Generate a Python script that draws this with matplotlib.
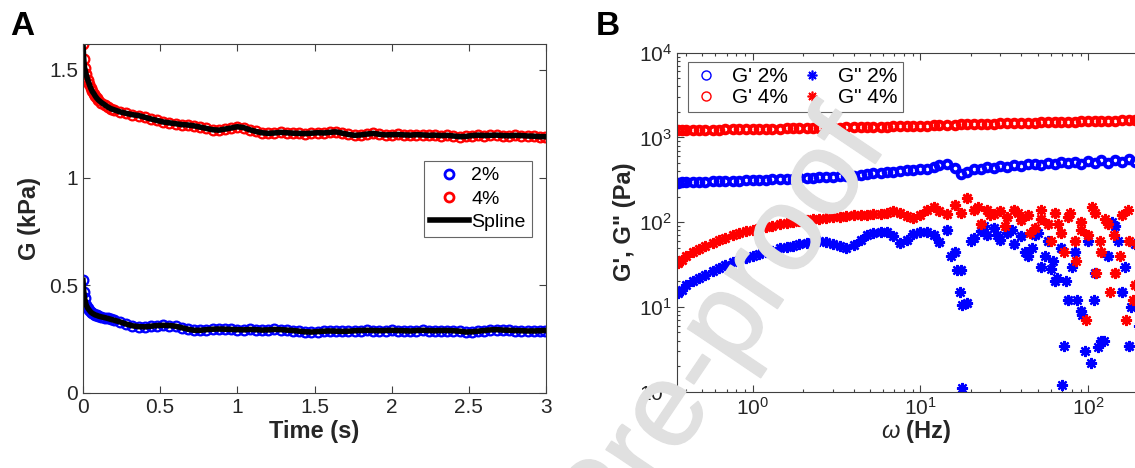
import matplotlib
matplotlib.use('Agg')
import matplotlib.pyplot as plt
import matplotlib.ticker as mticker
import matplotlib.patheffects as pe
from matplotlib.lines import Line2D

plt.rcParams['font.family'] = ['Liberation Sans', 'DejaVu Sans']
plt.rcParams['mathtext.fontset'] = 'custom'
plt.rcParams['mathtext.rm'] = 'Liberation Sans'
plt.rcParams['mathtext.it'] = 'Liberation Sans:italic'
plt.rcParams['mathtext.bf'] = 'Liberation Sans:bold'
plt.rcParams['mathtext.default'] = 'regular'

# ---- panel A: relaxation, G (kPa) vs time (s)
t = [0, 0.005, 0.01, 0.02, 0.03, 0.04, 0.05, 0.06, 0.07, 0.08, 0.09, 0.10,
     0.12, 0.14, 0.16, 0.18, 0.20, 0.24, 0.28, 0.32, 0.36, 0.40, 0.44, 0.48,
     0.52, 0.56, 0.60, 0.64, 0.68, 0.72, 0.76, 0.80, 0.84, 0.88, 0.92, 0.96,
     1.00, 1.04, 1.08, 1.12, 1.16, 1.20, 1.24, 1.28, 1.32, 1.36, 1.40, 1.44,
     1.48, 1.52, 1.56, 1.60, 1.64, 1.68, 1.72, 1.76, 1.80, 1.84, 1.88, 1.92,
     1.96, 2.00, 2.04, 2.08, 2.12, 2.16, 2.20, 2.24, 2.28, 2.32, 2.36, 2.40,
     2.44, 2.48, 2.52, 2.56, 2.60, 2.64, 2.68, 2.72, 2.76, 2.80, 2.84, 2.88,
     2.92, 2.96, 2.99]
g4 = [1.62, 1.55, 1.51, 1.48, 1.455, 1.435, 1.415, 1.40, 1.39, 1.378, 1.368, 1.36,
      1.348, 1.338, 1.328, 1.32, 1.315, 1.305, 1.298, 1.292, 1.288, 1.28, 1.272, 1.265,
      1.258, 1.254, 1.25, 1.246, 1.244, 1.24, 1.234, 1.228, 1.222, 1.22, 1.225, 1.23,
      1.236, 1.232, 1.222, 1.214, 1.208, 1.205, 1.207, 1.21, 1.208, 1.206, 1.205, 1.204,
      1.206, 1.208, 1.207, 1.21, 1.212, 1.206, 1.20, 1.196, 1.198, 1.202, 1.205, 1.201,
      1.198, 1.199, 1.20, 1.198, 1.197, 1.199, 1.198, 1.196, 1.197, 1.195, 1.196, 1.193,
      1.19, 1.191, 1.195, 1.197, 1.195, 1.196, 1.197, 1.195, 1.194, 1.196, 1.195, 1.193,
      1.192, 1.19, 1.19]
g2 = [0.523, 0.47, 0.44, 0.41, 0.395, 0.385, 0.376, 0.37, 0.366, 0.362, 0.36, 0.357,
      0.353, 0.35, 0.346, 0.342, 0.338, 0.33, 0.32, 0.312, 0.308, 0.307, 0.31, 0.313,
      0.314, 0.313, 0.31, 0.303, 0.296, 0.291, 0.291, 0.294, 0.296, 0.297, 0.296, 0.295,
      0.294, 0.293, 0.295, 0.294, 0.292, 0.293, 0.295, 0.294, 0.292, 0.29, 0.287, 0.284,
      0.283, 0.285, 0.287, 0.288, 0.287, 0.286, 0.287, 0.289, 0.29, 0.291, 0.29, 0.289,
      0.29, 0.291, 0.29, 0.289, 0.288, 0.29, 0.291, 0.29, 0.289, 0.29, 0.29, 0.289,
      0.287, 0.283, 0.284, 0.287, 0.29, 0.293, 0.294, 0.292, 0.291, 0.29, 0.289, 0.288,
      0.288, 0.289, 0.29]

# ---- panel B: frequency sweep, G', G'' (Pa) vs omega (Hz)
w = [0.36, 0.38, 0.40, 0.44, 0.48, 0.52, 0.58, 0.63, 0.69, 0.76, 0.83, 0.91,
     1.0, 1.1, 1.2, 1.3, 1.45, 1.6, 1.75, 1.9, 2.1, 2.3, 2.5, 2.75, 3.0, 3.3,
     3.6, 4.0, 4.4, 4.8, 5.2, 5.8, 6.3, 6.9, 7.6, 8.3, 9.1,
     10, 11, 12, 13, 14.5, 16, 17.5, 19, 21, 23, 25, 27.5, 30, 33, 36, 40, 44,
     48, 52, 58, 63, 69, 76, 83, 91,
     100, 110, 120, 132, 145, 160, 175, 190, 210]
gp4 = [1220, 1222, 1225, 1228, 1230, 1233, 1236, 1240, 1243, 1246, 1250, 1253,
       1257, 1260, 1264, 1268, 1272, 1276, 1280, 1284, 1288, 1292, 1297, 1301, 1306, 1310,
       1315, 1320, 1325, 1330, 1335, 1340, 1346, 1352, 1358, 1364, 1370,
       1376, 1382, 1390, 1396, 1404, 1412, 1425, 1450, 1440, 1445, 1452, 1458, 1465, 1472,
       1478, 1485, 1492, 1498, 1505, 1512, 1520, 1525, 1532, 1540, 1545,
       1552, 1560, 1566, 1575, 1582, 1590, 1598, 1605, 1615]
gp2 = [294, 296, 297, 299, 300, 301, 303, 304, 306, 308, 310, 312,
       314, 316, 318, 320, 322, 325, 327, 330, 333, 336, 339, 342, 346, 350,
       352, 355, 362, 370, 376, 382, 388, 394, 400, 408, 415,
       422, 430, 445, 470, 480, 440, 370, 395, 420, 430, 445, 440, 460, 452,
       470, 465, 480, 485, 478, 500, 490, 510, 500, 520, 480,
       530, 505, 540, 495, 545, 510, 550, 520, 560]
gpp4 = [33, 36, 40, 44, 48, 52, 57, 61, 66, 70, 74, 78,
        82, 85, 88, 91, 94, 97, 100, 103, 106, 108, 110, 112, 114, 116,
        118, 120, 121, 123, 124, 126, 130, 135, 128, 118, 112,
        122, 140, 150, 135, 125, 160, 130, 195, 140, 95, 140, 125, 135, 115,
        140, 105, 120, 85, 110, 95, 130, 75, 115, 60, 100,
        70, 130, 45, 95, 25, 120, 60, 18, 90]
gpp2 = [14.5, 16, 18, 20, 22, 24, 26.5, 29, 31.5, 34, 36, 38,
        40, 42, 44, 46, 49, 51, 53, 55, 57, 59, 60, 59, 56, 52,
        50, 54, 62, 70, 75, 77, 76, 68, 57, 62, 72,
        77, 76, 70, 58, 82, 45, 27, 11, 65, 78, 70, 85, 62, 75,
        55, 68, 40, 70, 30, 60, 20, 50, 12, 45, 9,
        60, 25, 4, 40, 90, 15, 3.5, 55, 20]
# scattered G'' points at high frequency
w_x2 = [15.2, 16.5, 17.2, 17.8, 17.6, 20, 24, 28.5, 35, 42, 46, 50, 55, 60, 62,
        65, 70, 72, 74, 80, 86, 92, 96, 104, 108, 115, 125, 138, 150, 165, 180, 200]
gpp2_x = [40, 27, 15, 10.5, 1.1, 60, 90, 70, 80, 45, 50, 75, 40, 28, 35,
          22, 1.2, 3.5, 20, 30, 12, 8, 3, 2.2, 12, 3.4, 4, 100, 60, 30, 10, 6]
w_x4 = [22, 26, 32, 38, 45, 52, 60, 66, 72, 78, 85, 90, 97, 105, 112,
        118, 126, 135, 142, 155, 168, 172, 185, 195, 205]
gpp4_x = [150, 120, 90, 130, 75, 140, 60, 95, 45, 130, 35, 80, 7, 150, 25,
          60, 110, 15, 70, 40, 7, 140, 12, 55, 100]

axis_col = '#404040'
text_col = '#262626'
star = (8, 2, 0)

fig = plt.figure(figsize=(11.35, 4.68), dpi=100)

# Panel A
axA = fig.add_axes([0.0731, 0.1603, 0.408, 0.7457])
axA.plot(t, g2, 'o', mfc='none', mec='b', ms=7, mew=1.6)
axA.plot(t, g4, 'o', mfc='none', mec='r', ms=7, mew=1.6)
axA.plot(t, g2, '-', color='k', lw=4)
axA.plot(t, g4, '-', color='k', lw=4)
axA.set_xlim(0, 3)
axA.set_ylim(0, 1.62)
axA.set_xticks([0, 0.5, 1, 1.5, 2, 2.5, 3])
axA.set_yticks([0, 0.5, 1, 1.5])
axA.xaxis.set_major_formatter(mticker.FormatStrFormatter('%g'))
axA.yaxis.set_major_formatter(mticker.FormatStrFormatter('%g'))
axA.set_xlabel('Time (s)', fontsize=17, fontweight='bold', color=text_col, labelpad=2)
axA.set_ylabel('G (kPa)', fontsize=17, fontweight='bold', color=text_col, labelpad=6)
hA = [Line2D([], [], ls='none', marker='o', mfc='none', mec='b', ms=6.5, mew=2),
      Line2D([], [], ls='none', marker='o', mfc='none', mec='r', ms=6.5, mew=2),
      Line2D([], [], color='k', lw=4)]
legA = axA.legend(hA, ['2%', '4%', 'Spline'], loc='upper left',
                  bbox_to_anchor=(0.736, 0.665), fontsize=14, fancybox=False,
                  edgecolor=axis_col, handlelength=2.0, handletextpad=0.15,
                  borderpad=0.3, labelspacing=0.3, borderaxespad=0)
legA.get_frame().set_linewidth(0.8)

# Panel B
axB = fig.add_axes([0.5965, 0.163, 0.4211, 0.7244])
axB.loglog(w, gp2, 'o', mfc='none', mec='b', ms=5.5, mew=2.8, ls='none')
axB.loglog(w, gp4, 'o', mfc='none', mec='r', ms=5.5, mew=2.8, ls='none')
axB.loglog(w, gpp2, ls='none', marker=star, color='b', ms=8, mew=1.8)
axB.loglog(w_x2, gpp2_x, ls='none', marker=star, color='b', ms=8, mew=1.6)
axB.loglog(w, gpp4, ls='none', marker=star, color='r', ms=8, mew=1.8)
axB.loglog(w_x4, gpp4_x, ls='none', marker=star, color='r', ms=8, mew=1.6)
axB.set_xlim(0.355, 250)
axB.set_ylim(1, 1e4)
axB.set_xticks([1, 10, 100])
axB.set_yticks([1, 10, 100, 1000, 10000])
axB.set_xlabel(r'$\mathit{\omega}$ (Hz)', fontsize=17, fontweight='bold', color=text_col, labelpad=0)
axB.set_ylabel("G', G\" (Pa)", fontsize=17, fontweight='bold', color=text_col, labelpad=2)
hB = [Line2D([], [], ls='none', marker='o', mfc='none', mec='b', ms=6.5, mew=1.0),
      Line2D([], [], ls='none', marker='o', mfc='none', mec='r', ms=6.5, mew=1.0),
      Line2D([], [], ls='none', marker=star, color='b', ms=7, mew=1.2),
      Line2D([], [], ls='none', marker=star, color='r', ms=7, mew=1.2)]
legB = axB.legend(hB, ["G' 2%", "G' 4%", 'G" 2%', 'G" 4%'], ncol=2, loc='upper left',
                  bbox_to_anchor=(0.022, 0.973), fontsize=15, fancybox=False,
                  edgecolor=axis_col, handlelength=1.3, handletextpad=0.6,
                  columnspacing=0.5, borderpad=0.25, labelspacing=0.1, borderaxespad=0)
legB.get_frame().set_linewidth(0.8)

for ax in (axA, axB):
    ax.tick_params(which='both', direction='in', top=True, right=True,
                   colors=axis_col, labelcolor=text_col, labelsize=15, width=0.8)
    ax.tick_params(which='major', length=5)
    ax.tick_params(which='minor', length=2.5)
    for s in ax.spines.values():
        s.set_color(axis_col)
        s.set_linewidth(0.8)

fig.text(0.009, 0.925, 'A', fontsize=24, fontweight='bold', color='k')
fig.text(0.525, 0.925, 'B', fontsize=24, fontweight='bold', color='k')

# watermark
fig.text(0.782, 0.690, 'Journal Pre-proof', rotation=56, rotation_mode='anchor',
         ha='right', va='baseline', fontsize=86, color='#e0e0e0', zorder=10,
         path_effects=[pe.withStroke(linewidth=1.2, foreground='#e0e0e0')])

fig.savefig('out.png', dpi=100)
